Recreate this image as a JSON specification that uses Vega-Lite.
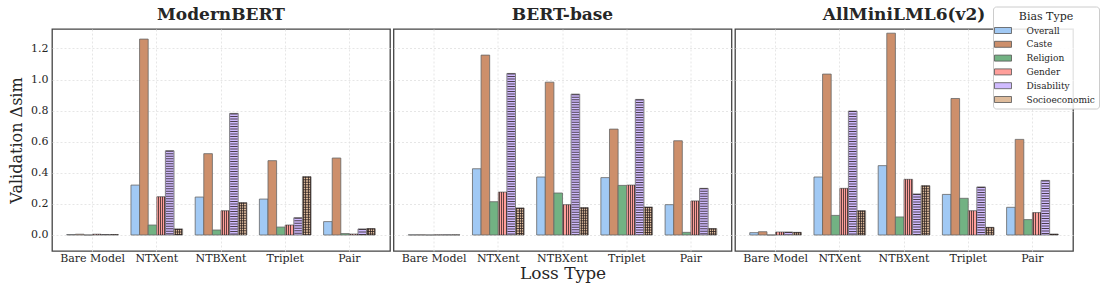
{
  "$schema": "https://vega.github.io/schema/vega-lite/v6.json",
  "background": "white",
  "padding": {"left": 7, "top": 5, "right": 5, "bottom": 5},
  "config": {
    "font": "DejaVu Serif",
    "view": {"stroke": "#444", "strokeWidth": 1.3},
    "axis": {
      "labelFont": "DejaVu Serif", "labelFontSize": 11, "labelColor": "#262626",
      "titleFont": "DejaVu Serif", "titleColor": "#262626", "titleFontWeight": "normal",
      "ticks": false, "domain": false, "grid": true,
      "gridColor": "#e0e0e0", "gridDash": [2, 2], "gridWidth": 0.8
    },
    "title": {"font": "DejaVu Serif", "fontSize": 17, "fontWeight": "bold", "color": "#262626", "offset": 5},
    "legend": {
      "titleFont": "DejaVu Serif", "titleFontSize": 11, "titleFontWeight": "normal", "titleColor": "#262626",
      "titleAnchor": "middle", "titlePadding": 3.5,
      "labelFont": "DejaVu Serif", "labelFontSize": 9, "labelColor": "#262626",
      "symbolType": "M-1.7,-0.6L1.7,-0.6L1.7,0.6L-1.7,0.6Z", "symbolSize": 100,
      "symbolStrokeColor": "#555", "symbolStrokeWidth": 0.8, "symbolOpacity": 1,
      "symbolOffset": 0.5, "labelOffset": 18, "rowPadding": 2.8,
      "padding": 4, "strokeColor": "#cccccc", "fillColor": "rgba(255,255,255,0.85)", "cornerRadius": 3
    }
  },
  "datasets": {
    "d": [
      {"model": "ModernBERT", "loss": "Bare Model", "bias": "Overall", "value": 0.003},
      {"model": "ModernBERT", "loss": "Bare Model", "bias": "Caste", "value": 0.005},
      {"model": "ModernBERT", "loss": "Bare Model", "bias": "Religion", "value": 0.0},
      {"model": "ModernBERT", "loss": "Bare Model", "bias": "Gender", "value": 0.005},
      {"model": "ModernBERT", "loss": "Bare Model", "bias": "Disability", "value": 0.003},
      {"model": "ModernBERT", "loss": "Bare Model", "bias": "Socioeconomic", "value": 0.003},
      {"model": "ModernBERT", "loss": "NTXent", "bias": "Overall", "value": 0.321},
      {"model": "ModernBERT", "loss": "NTXent", "bias": "Caste", "value": 1.26},
      {"model": "ModernBERT", "loss": "NTXent", "bias": "Religion", "value": 0.064},
      {"model": "ModernBERT", "loss": "NTXent", "bias": "Gender", "value": 0.246},
      {"model": "ModernBERT", "loss": "NTXent", "bias": "Disability", "value": 0.542},
      {"model": "ModernBERT", "loss": "NTXent", "bias": "Socioeconomic", "value": 0.039},
      {"model": "ModernBERT", "loss": "NTBXent", "bias": "Overall", "value": 0.244},
      {"model": "ModernBERT", "loss": "NTBXent", "bias": "Caste", "value": 0.523},
      {"model": "ModernBERT", "loss": "NTBXent", "bias": "Religion", "value": 0.032},
      {"model": "ModernBERT", "loss": "NTBXent", "bias": "Gender", "value": 0.156},
      {"model": "ModernBERT", "loss": "NTBXent", "bias": "Disability", "value": 0.782},
      {"model": "ModernBERT", "loss": "NTBXent", "bias": "Socioeconomic", "value": 0.208},
      {"model": "ModernBERT", "loss": "Triplet", "bias": "Overall", "value": 0.231},
      {"model": "ModernBERT", "loss": "Triplet", "bias": "Caste", "value": 0.478},
      {"model": "ModernBERT", "loss": "Triplet", "bias": "Religion", "value": 0.051},
      {"model": "ModernBERT", "loss": "Triplet", "bias": "Gender", "value": 0.064},
      {"model": "ModernBERT", "loss": "Triplet", "bias": "Disability", "value": 0.111},
      {"model": "ModernBERT", "loss": "Triplet", "bias": "Socioeconomic", "value": 0.375},
      {"model": "ModernBERT", "loss": "Pair", "bias": "Overall", "value": 0.086},
      {"model": "ModernBERT", "loss": "Pair", "bias": "Caste", "value": 0.495},
      {"model": "ModernBERT", "loss": "Pair", "bias": "Religion", "value": 0.009},
      {"model": "ModernBERT", "loss": "Pair", "bias": "Gender", "value": 0.006},
      {"model": "ModernBERT", "loss": "Pair", "bias": "Disability", "value": 0.039},
      {"model": "ModernBERT", "loss": "Pair", "bias": "Socioeconomic", "value": 0.041},

      {"model": "BERT-base", "loss": "Bare Model", "bias": "Overall", "value": 0.001},
      {"model": "BERT-base", "loss": "Bare Model", "bias": "Caste", "value": 0.001},
      {"model": "BERT-base", "loss": "Bare Model", "bias": "Religion", "value": 0.0},
      {"model": "BERT-base", "loss": "Bare Model", "bias": "Gender", "value": 0.001},
      {"model": "BERT-base", "loss": "Bare Model", "bias": "Disability", "value": 0.001},
      {"model": "BERT-base", "loss": "Bare Model", "bias": "Socioeconomic", "value": 0.001},
      {"model": "BERT-base", "loss": "NTXent", "bias": "Overall", "value": 0.426},
      {"model": "BERT-base", "loss": "NTXent", "bias": "Caste", "value": 1.157},
      {"model": "BERT-base", "loss": "NTXent", "bias": "Religion", "value": 0.214},
      {"model": "BERT-base", "loss": "NTXent", "bias": "Gender", "value": 0.276},
      {"model": "BERT-base", "loss": "NTXent", "bias": "Disability", "value": 1.039},
      {"model": "BERT-base", "loss": "NTXent", "bias": "Socioeconomic", "value": 0.174},
      {"model": "BERT-base", "loss": "NTBXent", "bias": "Overall", "value": 0.373},
      {"model": "BERT-base", "loss": "NTBXent", "bias": "Caste", "value": 0.983},
      {"model": "BERT-base", "loss": "NTBXent", "bias": "Religion", "value": 0.27},
      {"model": "BERT-base", "loss": "NTBXent", "bias": "Gender", "value": 0.195},
      {"model": "BERT-base", "loss": "NTBXent", "bias": "Disability", "value": 0.906},
      {"model": "BERT-base", "loss": "NTBXent", "bias": "Socioeconomic", "value": 0.176},
      {"model": "BERT-base", "loss": "Triplet", "bias": "Overall", "value": 0.369},
      {"model": "BERT-base", "loss": "Triplet", "bias": "Caste", "value": 0.681},
      {"model": "BERT-base", "loss": "Triplet", "bias": "Religion", "value": 0.319},
      {"model": "BERT-base", "loss": "Triplet", "bias": "Gender", "value": 0.321},
      {"model": "BERT-base", "loss": "Triplet", "bias": "Disability", "value": 0.872},
      {"model": "BERT-base", "loss": "Triplet", "bias": "Socioeconomic", "value": 0.18},
      {"model": "BERT-base", "loss": "Pair", "bias": "Overall", "value": 0.195},
      {"model": "BERT-base", "loss": "Pair", "bias": "Caste", "value": 0.606},
      {"model": "BERT-base", "loss": "Pair", "bias": "Religion", "value": 0.017},
      {"model": "BERT-base", "loss": "Pair", "bias": "Gender", "value": 0.219},
      {"model": "BERT-base", "loss": "Pair", "bias": "Disability", "value": 0.3},
      {"model": "BERT-base", "loss": "Pair", "bias": "Socioeconomic", "value": 0.041},

      {"model": "AllMiniLML6(v2)", "loss": "Bare Model", "bias": "Overall", "value": 0.015},
      {"model": "AllMiniLML6(v2)", "loss": "Bare Model", "bias": "Caste", "value": 0.021},
      {"model": "AllMiniLML6(v2)", "loss": "Bare Model", "bias": "Religion", "value": 0.0},
      {"model": "AllMiniLML6(v2)", "loss": "Bare Model", "bias": "Gender", "value": 0.019},
      {"model": "AllMiniLML6(v2)", "loss": "Bare Model", "bias": "Disability", "value": 0.019},
      {"model": "AllMiniLML6(v2)", "loss": "Bare Model", "bias": "Socioeconomic", "value": 0.017},
      {"model": "AllMiniLML6(v2)", "loss": "NTXent", "bias": "Overall", "value": 0.373},
      {"model": "AllMiniLML6(v2)", "loss": "NTXent", "bias": "Caste", "value": 1.035},
      {"model": "AllMiniLML6(v2)", "loss": "NTXent", "bias": "Religion", "value": 0.126},
      {"model": "AllMiniLML6(v2)", "loss": "NTXent", "bias": "Gender", "value": 0.3},
      {"model": "AllMiniLML6(v2)", "loss": "NTXent", "bias": "Disability", "value": 0.797},
      {"model": "AllMiniLML6(v2)", "loss": "NTXent", "bias": "Socioeconomic", "value": 0.156},
      {"model": "AllMiniLML6(v2)", "loss": "NTBXent", "bias": "Overall", "value": 0.446},
      {"model": "AllMiniLML6(v2)", "loss": "NTBXent", "bias": "Caste", "value": 1.298},
      {"model": "AllMiniLML6(v2)", "loss": "NTBXent", "bias": "Religion", "value": 0.116},
      {"model": "AllMiniLML6(v2)", "loss": "NTBXent", "bias": "Gender", "value": 0.358},
      {"model": "AllMiniLML6(v2)", "loss": "NTBXent", "bias": "Disability", "value": 0.264},
      {"model": "AllMiniLML6(v2)", "loss": "NTBXent", "bias": "Socioeconomic", "value": 0.317},
      {"model": "AllMiniLML6(v2)", "loss": "Triplet", "bias": "Overall", "value": 0.261},
      {"model": "AllMiniLML6(v2)", "loss": "Triplet", "bias": "Caste", "value": 0.878},
      {"model": "AllMiniLML6(v2)", "loss": "Triplet", "bias": "Religion", "value": 0.236},
      {"model": "AllMiniLML6(v2)", "loss": "Triplet", "bias": "Gender", "value": 0.156},
      {"model": "AllMiniLML6(v2)", "loss": "Triplet", "bias": "Disability", "value": 0.309},
      {"model": "AllMiniLML6(v2)", "loss": "Triplet", "bias": "Socioeconomic", "value": 0.049},
      {"model": "AllMiniLML6(v2)", "loss": "Pair", "bias": "Overall", "value": 0.178},
      {"model": "AllMiniLML6(v2)", "loss": "Pair", "bias": "Caste", "value": 0.615},
      {"model": "AllMiniLML6(v2)", "loss": "Pair", "bias": "Religion", "value": 0.099},
      {"model": "AllMiniLML6(v2)", "loss": "Pair", "bias": "Gender", "value": 0.144},
      {"model": "AllMiniLML6(v2)", "loss": "Pair", "bias": "Disability", "value": 0.351},
      {"model": "AllMiniLML6(v2)", "loss": "Pair", "bias": "Socioeconomic", "value": 0.006}
    ]
  },
  "data": {"name": "d"},
  "spacing": 1.5,
  "hconcat": [
    {
      "title": "ModernBERT",
      "width": 338, "height": 222,
      "transform": [{"filter": "datum.model === 'ModernBERT'"}],
      "encoding": {
        "x": {"field": "loss", "type": "nominal", "sort": ["Bare Model", "NTXent", "NTBXent", "Triplet", "Pair"],
              "scale": {"paddingInner": 0, "paddingOuter": 0.132},
              "axis": {"title": null, "labelAngle": 0, "labelPadding": 1.5, "tickSize": 0, "bandPosition": 0.5}},
        "xOffset": {"field": "bias", "type": "nominal", "sort": ["Overall", "Caste", "Religion", "Gender", "Disability", "Socioeconomic"],
                    "scale": {"paddingInner": 0, "paddingOuter": 0.73}},
        "y": {"field": "value", "type": "quantitative", "scale": {"domain": [-0.103, 1.325], "nice": false},
              "axis": {"title": "Validation Δsim", "titleFontSize": 16, "titlePadding": 6, "labelPadding": 4,
                       "values": [0, 0.2, 0.4, 0.6, 0.8, 1.0, 1.2], "format": ".1f"}}
      },
      "layer": [
        {"mark": {"type": "bar", "stroke": "#666", "strokeWidth": 0.8},
         "encoding": {"color": {"field": "bias", "type": "nominal", "title": "Bias Type",
           "scale": {"domain": ["Overall", "Caste", "Religion", "Gender", "Disability", "Socioeconomic"],
                     "range": ["#a1c9f4", "#cd8f6b", "#72b283", "#ff9f9b", "#d0bbff", "#debb9b"]},
           "legend": {"orient": "none", "legendX": 941, "legendY": -22.5}}}},
        {"transform": [{"filter": "datum.bias === 'Disability' || datum.bias === 'Socioeconomic'"}],
         "mark": {"type": "rule", "strokeWidth": 7.4, "strokeDash": [1, 1.5], "color": "#2a2020", "opacity": 0.8},
         "encoding": {"y2": {"datum": 0}}},
        {"transform": [{"filter": "datum.bias === 'Gender' || datum.bias === 'Socioeconomic'"}],
         "mark": {"type": "bar", "strokeWidth": 0, "fill": {"gradient": "linear", "x1": 0, "y1": 0, "x2": 1, "y2": 0, "stops": [
           {"offset": 0, "color": "rgba(0,0,0,0)"}, {"offset": 0.1, "color": "rgba(0,0,0,0)"},
           {"offset": 0.1, "color": "rgba(42,32,32,0.75)"}, {"offset": 0.22, "color": "rgba(42,32,32,0.75)"},
           {"offset": 0.22, "color": "rgba(0,0,0,0)"}, {"offset": 0.35, "color": "rgba(0,0,0,0)"},
           {"offset": 0.35, "color": "rgba(42,32,32,0.75)"}, {"offset": 0.47, "color": "rgba(42,32,32,0.75)"},
           {"offset": 0.47, "color": "rgba(0,0,0,0)"}, {"offset": 0.6, "color": "rgba(0,0,0,0)"},
           {"offset": 0.6, "color": "rgba(42,32,32,0.75)"}, {"offset": 0.72, "color": "rgba(42,32,32,0.75)"},
           {"offset": 0.72, "color": "rgba(0,0,0,0)"}, {"offset": 0.85, "color": "rgba(0,0,0,0)"},
           {"offset": 0.85, "color": "rgba(42,32,32,0.75)"}, {"offset": 0.97, "color": "rgba(42,32,32,0.75)"},
           {"offset": 0.97, "color": "rgba(0,0,0,0)"}, {"offset": 1, "color": "rgba(0,0,0,0)"}]}}}
      ]
    },
    {
      "title": "BERT-base",
      "width": 338, "height": 222,
      "transform": [{"filter": "datum.model === 'BERT-base'"}],
      "encoding": {
        "x": {"field": "loss", "type": "nominal", "sort": ["Bare Model", "NTXent", "NTBXent", "Triplet", "Pair"],
              "scale": {"paddingInner": 0, "paddingOuter": 0.132},
              "axis": {"title": "Loss Type", "titleFontSize": 17, "titlePadding": 2, "labelAngle": 0, "labelPadding": 1.5, "tickSize": 0, "bandPosition": 0.5}},
        "xOffset": {"field": "bias", "type": "nominal", "sort": ["Overall", "Caste", "Religion", "Gender", "Disability", "Socioeconomic"],
                    "scale": {"paddingInner": 0, "paddingOuter": 0.73}},
        "y": {"field": "value", "type": "quantitative", "scale": {"domain": [-0.103, 1.325], "nice": false},
              "axis": {"title": null, "labels": false, "labelPadding": 0, "tickSize": 0, "minExtent": 0, "maxExtent": 0, "values": [0, 0.2, 0.4, 0.6, 0.8, 1.0, 1.2]}}
      },
      "layer": [
        {"mark": {"type": "bar", "stroke": "#666", "strokeWidth": 0.8},
         "encoding": {"color": {"field": "bias", "type": "nominal", "title": "Bias Type",
           "scale": {"domain": ["Overall", "Caste", "Religion", "Gender", "Disability", "Socioeconomic"],
                     "range": ["#a1c9f4", "#cd8f6b", "#72b283", "#ff9f9b", "#d0bbff", "#debb9b"]},
           "legend": {"orient": "none", "legendX": 941, "legendY": -22.5}}}},
        {"transform": [{"filter": "datum.bias === 'Disability' || datum.bias === 'Socioeconomic'"}],
         "mark": {"type": "rule", "strokeWidth": 7.4, "strokeDash": [1, 1.5], "color": "#2a2020", "opacity": 0.8},
         "encoding": {"y2": {"datum": 0}}},
        {"transform": [{"filter": "datum.bias === 'Gender' || datum.bias === 'Socioeconomic'"}],
         "mark": {"type": "bar", "strokeWidth": 0, "fill": {"gradient": "linear", "x1": 0, "y1": 0, "x2": 1, "y2": 0, "stops": [
           {"offset": 0, "color": "rgba(0,0,0,0)"}, {"offset": 0.1, "color": "rgba(0,0,0,0)"},
           {"offset": 0.1, "color": "rgba(42,32,32,0.75)"}, {"offset": 0.22, "color": "rgba(42,32,32,0.75)"},
           {"offset": 0.22, "color": "rgba(0,0,0,0)"}, {"offset": 0.35, "color": "rgba(0,0,0,0)"},
           {"offset": 0.35, "color": "rgba(42,32,32,0.75)"}, {"offset": 0.47, "color": "rgba(42,32,32,0.75)"},
           {"offset": 0.47, "color": "rgba(0,0,0,0)"}, {"offset": 0.6, "color": "rgba(0,0,0,0)"},
           {"offset": 0.6, "color": "rgba(42,32,32,0.75)"}, {"offset": 0.72, "color": "rgba(42,32,32,0.75)"},
           {"offset": 0.72, "color": "rgba(0,0,0,0)"}, {"offset": 0.85, "color": "rgba(0,0,0,0)"},
           {"offset": 0.85, "color": "rgba(42,32,32,0.75)"}, {"offset": 0.97, "color": "rgba(42,32,32,0.75)"},
           {"offset": 0.97, "color": "rgba(0,0,0,0)"}, {"offset": 1, "color": "rgba(0,0,0,0)"}]}}}
      ]
    },
    {
      "title": "AllMiniLML6(v2)",
      "width": 338, "height": 222,
      "transform": [{"filter": "datum.model === 'AllMiniLML6(v2)'"}],
      "encoding": {
        "x": {"field": "loss", "type": "nominal", "sort": ["Bare Model", "NTXent", "NTBXent", "Triplet", "Pair"],
              "scale": {"paddingInner": 0, "paddingOuter": 0.132},
              "axis": {"title": null, "labelAngle": 0, "labelPadding": 1.5, "tickSize": 0, "bandPosition": 0.5}},
        "xOffset": {"field": "bias", "type": "nominal", "sort": ["Overall", "Caste", "Religion", "Gender", "Disability", "Socioeconomic"],
                    "scale": {"paddingInner": 0, "paddingOuter": 0.73}},
        "y": {"field": "value", "type": "quantitative", "scale": {"domain": [-0.103, 1.325], "nice": false},
              "axis": {"title": null, "labels": false, "labelPadding": 0, "tickSize": 0, "minExtent": 0, "maxExtent": 0, "values": [0, 0.2, 0.4, 0.6, 0.8, 1.0, 1.2]}}
      },
      "layer": [
        {"mark": {"type": "bar", "stroke": "#666", "strokeWidth": 0.8},
         "encoding": {"color": {"field": "bias", "type": "nominal", "title": "Bias Type",
           "scale": {"domain": ["Overall", "Caste", "Religion", "Gender", "Disability", "Socioeconomic"],
                     "range": ["#a1c9f4", "#cd8f6b", "#72b283", "#ff9f9b", "#d0bbff", "#debb9b"]},
           "legend": {"orient": "none", "legendX": 941, "legendY": -22.5}}}},
        {"transform": [{"filter": "datum.bias === 'Disability' || datum.bias === 'Socioeconomic'"}],
         "mark": {"type": "rule", "strokeWidth": 7.4, "strokeDash": [1, 1.5], "color": "#2a2020", "opacity": 0.8},
         "encoding": {"y2": {"datum": 0}}},
        {"transform": [{"filter": "datum.bias === 'Gender' || datum.bias === 'Socioeconomic'"}],
         "mark": {"type": "bar", "strokeWidth": 0, "fill": {"gradient": "linear", "x1": 0, "y1": 0, "x2": 1, "y2": 0, "stops": [
           {"offset": 0, "color": "rgba(0,0,0,0)"}, {"offset": 0.1, "color": "rgba(0,0,0,0)"},
           {"offset": 0.1, "color": "rgba(42,32,32,0.75)"}, {"offset": 0.22, "color": "rgba(42,32,32,0.75)"},
           {"offset": 0.22, "color": "rgba(0,0,0,0)"}, {"offset": 0.35, "color": "rgba(0,0,0,0)"},
           {"offset": 0.35, "color": "rgba(42,32,32,0.75)"}, {"offset": 0.47, "color": "rgba(42,32,32,0.75)"},
           {"offset": 0.47, "color": "rgba(0,0,0,0)"}, {"offset": 0.6, "color": "rgba(0,0,0,0)"},
           {"offset": 0.6, "color": "rgba(42,32,32,0.75)"}, {"offset": 0.72, "color": "rgba(42,32,32,0.75)"},
           {"offset": 0.72, "color": "rgba(0,0,0,0)"}, {"offset": 0.85, "color": "rgba(0,0,0,0)"},
           {"offset": 0.85, "color": "rgba(42,32,32,0.75)"}, {"offset": 0.97, "color": "rgba(42,32,32,0.75)"},
           {"offset": 0.97, "color": "rgba(0,0,0,0)"}, {"offset": 1, "color": "rgba(0,0,0,0)"}]}}}
      ]
    }
  ]
}
